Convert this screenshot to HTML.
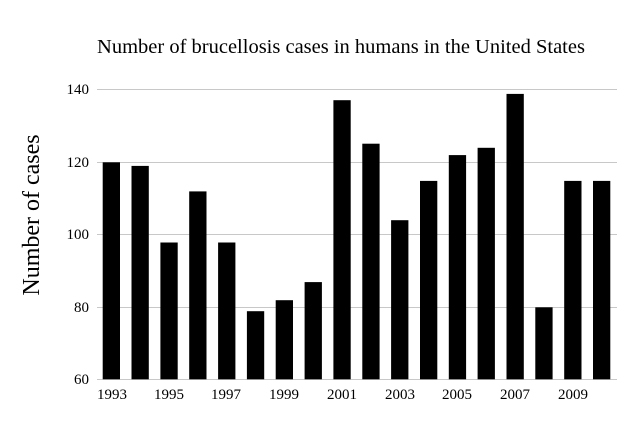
<!DOCTYPE html>
<html><head><style>body{margin:0;background:#fff}</style></head><body>
<svg width="637" height="425" xmlns="http://www.w3.org/2000/svg" font-family="Liberation Serif, serif">
<rect width="637" height="425" fill="#fff"/>
<text x="341" y="53" font-size="20.5" text-anchor="middle">Number of brucellosis cases in humans in the United States</text>
<text transform="translate(39,215) rotate(-90)" font-size="24" text-anchor="middle">Number of cases</text>
<g stroke="#c8c8c8" stroke-width="1">
<line x1="97" x2="617" y1="89.5" y2="89.5"/><line x1="97" x2="617" y1="162.5" y2="162.5"/><line x1="97" x2="617" y1="234.5" y2="234.5"/><line x1="97" x2="617" y1="307.5" y2="307.5"/><line x1="97" x2="617" y1="379.5" y2="379.5"/>
</g>
<g font-size="15" text-anchor="end">
<text x="89" y="94">140</text><text x="89" y="167">120</text><text x="89" y="239">100</text><text x="89" y="312">80</text><text x="89" y="384">60</text>
</g>
<g font-size="15" text-anchor="middle">
<text x="112" y="399">1993</text><text x="169" y="399">1995</text><text x="226" y="399">1997</text><text x="284" y="399">1999</text><text x="342" y="399">2001</text><text x="400" y="399">2003</text><text x="457" y="399">2005</text><text x="515" y="399">2007</text><text x="573" y="399">2009</text>
</g>
<g fill="#000">
<rect x="102.7" y="162.3" width="17.3" height="217"/>
<rect x="131.5" y="165.9" width="17.3" height="213.4"/>
<rect x="160.4" y="242.5" width="17.3" height="136.8"/>
<rect x="189.2" y="191.4" width="17.3" height="187.9"/>
<rect x="218.1" y="242.5" width="17.3" height="136.8"/>
<rect x="246.9" y="311.2" width="17.3" height="68.1"/>
<rect x="275.7" y="300.2" width="17.3" height="79.1"/>
<rect x="304.6" y="282.1" width="17.3" height="97.2"/>
<rect x="333.4" y="100.2" width="17.3" height="279.1"/>
<rect x="362.3" y="143.7" width="17.3" height="235.6"/>
<rect x="391.1" y="220.2" width="17.3" height="159.1"/>
<rect x="420" y="180.9" width="17.3" height="198.4"/>
<rect x="448.8" y="155.1" width="17.3" height="224.2"/>
<rect x="477.6" y="147.8" width="17.3" height="231.5"/>
<rect x="506.5" y="93.9" width="17.3" height="285.4"/>
<rect x="535.3" y="307.3" width="17.3" height="72"/>
<rect x="564.2" y="180.9" width="17.3" height="198.4"/>
<rect x="593" y="180.9" width="17.3" height="198.4"/>
</g>
</svg>
</body></html>
